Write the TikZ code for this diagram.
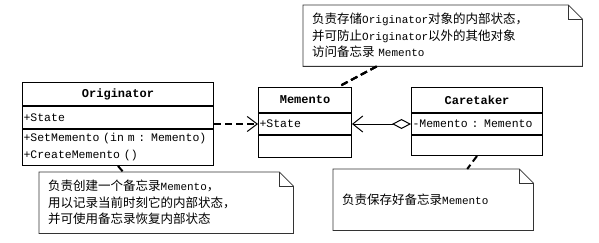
\documentclass[tikz,border=0pt]{standalone}
\usepackage{fontspec}
\setmainfont{Liberation Mono}
\newfontfamily\cjk{Noto Sans CJK SC}
\usepackage{tikz}
\usetikzlibrary{arrows.meta,positioning}
\tikzstyle{classtitle}=[draw,line width=1pt,inner xsep=1pt,inner ysep=0pt,align=center,font=\fontsize{12}{14}\selectfont\bfseries]
\tikzstyle{classpart}=[draw,line width=1pt,inner xsep=1pt,inner ysep=0pt,align=left,font=\fontsize{11.5}{17}\selectfont]
\tikzstyle{note}=[inner xsep=9pt,inner ysep=0pt,align=left,anchor=north west,minimum height=61pt,font=\fontsize{11}{16.5}\selectfont]
\tikzstyle{note line}=[line width=0.8pt,black!80]
\tikzstyle{depend}=[line width=2pt,dash pattern=on 7pt off 4pt]
\newcommand{\zh}[1]{{\cjk\fontsize{12.5}{16.5}\selectfont #1}}
% note outline with a folded top right corner
\newcommand{\notefold}[1]{%
  \draw[note line] (#1.north west) -- ([xshift=-14pt]#1.north east) -- ([yshift=-14pt]#1.north east) -- (#1.south east) -- (#1.south west) -- cycle;
  \draw[note line] ([xshift=-14pt]#1.north east) -- ([xshift=-14pt,yshift=-14pt]#1.north east) -- ([yshift=-14pt]#1.north east);}

\begin{document}
\begin{tikzpicture}[x=1pt,y=-1pt]
    \fill[white] (0,0) rectangle (599,243);
    \useasboundingbox (0,0) rectangle (599,243);
    % classes
    \node[classtitle,anchor=north west,text width=189pt,minimum height=23pt] (orig-title) at (22,82) {Originator};
    \node[classpart,text width=189pt,minimum height=22pt,below=0pt of orig-title] (orig-attr) {+State};
    \node[classpart,text width=189pt,minimum height=36pt,below=0pt of orig-attr] (orig-ops) {+SetMemento (in m : Memento)\\+CreateMemento ()};
    \node[classtitle,anchor=north west,text width=91pt,minimum height=25pt] (mem-title) at (258,87) {Memento};
    \node[classpart,text width=91pt,minimum height=21pt,below=0pt of mem-title] (mem-attr) {+State};
    \node[classpart,text width=91pt,minimum height=22pt,below=0pt of mem-attr] (mem-ops) {};
    \node[classtitle,anchor=north west,text width=129pt,minimum height=25pt] (care-title) at (411,87) {Caretaker};
    \node[classpart,text width=129pt,minimum height=21pt,below=0pt of care-title] (care-attr) {-Memento : Memento};
    \node[classpart,text width=129pt,minimum height=20pt,below=0pt of care-attr] (care-ops) {};
    % relations
    \draw[depend,-{Straight Barb[length=10pt,width=15pt,line width=1pt]}] (orig-attr.east |- mem-attr.west) -- (mem-attr.west);
    \draw[line width=1pt,{Straight Barb[length=10pt,width=16pt]}-{Diamond[open,length=19pt,width=10pt]}] (mem-attr.east) -- (care-attr.west);
    % notes
    \node[note,text width=261pt] (note-keep) at (303,5) {\zh{负责存储}Originator\zh{对象的内部状态，}\\\zh{并可防止}Originator\zh{以外的其他对象}\\\zh{访问备忘录} Memento};
    \node[note,text width=236pt] (note-create) at (39,172) {\zh{负责创建一个备忘录}Memento\zh{，}\\\zh{用以记录当前时刻它的内部状态，}\\\zh{并可使用备忘录恢复内部状态}};
    \node[note,text width=182pt] (note-save) at (333,169) {\zh{负责保存好备忘录}Memento};
    \foreach \n in {note-keep,note-create,note-save}
        \notefold{\n}
    \draw[depend] ([xshift=-66pt]note-keep.south) -- ([xshift=33pt]mem-title.north);
    \draw[depend] (orig-ops.south) -- ([xshift=-43pt]note-create.north);
    \draw[depend] (care-ops.south) -- ([xshift=34pt]note-save.north);
\end{tikzpicture}
\end{document}
